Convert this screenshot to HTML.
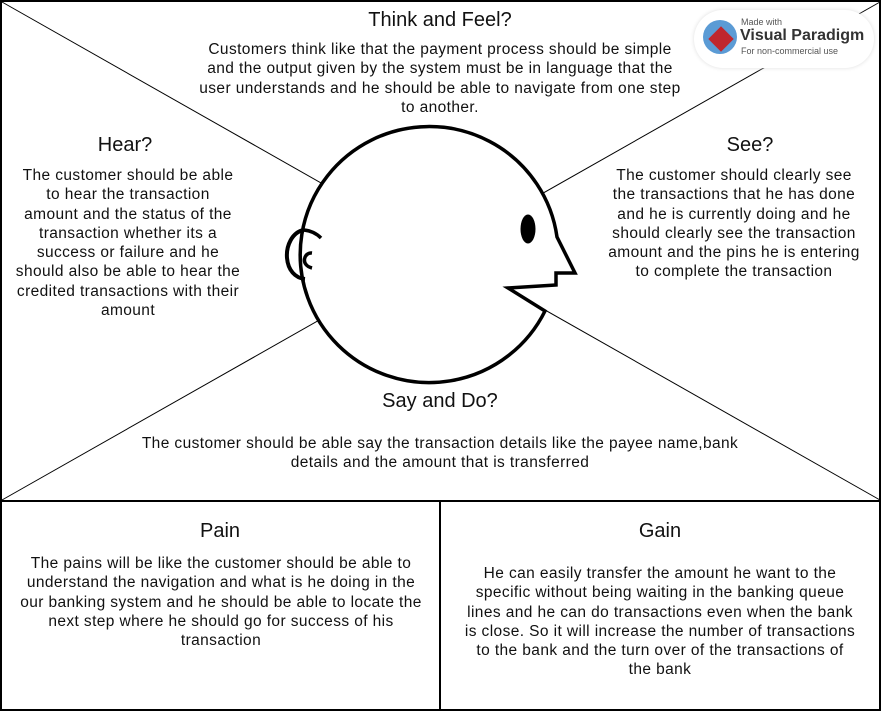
<!DOCTYPE html>
<html><head><meta charset="utf-8"><style>
body{margin:0;width:882px;height:712px;background:#fff;font-family:"Liberation Sans",sans-serif;overflow:hidden}
.t{position:absolute;text-align:center;color:#111;font-size:15.5px;letter-spacing:0.4px;line-height:19.3px;white-space:nowrap}
.h{position:absolute;text-align:center;font-size:20px;color:#111}
</style></head><body>
<svg width="882" height="712" style="position:absolute;left:0;top:0">
<line x1="2" y1="2" x2="441" y2="251" stroke="#000" stroke-width="1"/>
<line x1="880" y1="2" x2="441" y2="251" stroke="#000" stroke-width="1"/>
<line x1="2" y1="500" x2="441" y2="251" stroke="#000" stroke-width="1"/>
<line x1="880" y1="500" x2="441" y2="251" stroke="#000" stroke-width="1"/>
<rect x="1" y="1" width="879" height="500" fill="none" stroke="#000" stroke-width="2"/>
<rect x="1" y="501" width="879" height="209" fill="none" stroke="#000" stroke-width="2"/>
<line x1="440" y1="501" x2="440" y2="711" stroke="#000" stroke-width="2"/>
<path d="M557,237 L575,273 L556,273 L556,285 L508,288 L545,311 A129,128 0 1 1 557,237 Z" fill="#fff" stroke="#000" stroke-width="3.5" stroke-linejoin="miter"/>
<ellipse cx="528" cy="229" rx="7.5" ry="14.5" fill="#000"/>
<path d="M304,230 C292,232 286,246 287,258 C288,270 295,278 305,279" fill="none" stroke="#000" stroke-width="4"/>
<path d="M304,230 Q314,231 321,238" fill="none" stroke="#000" stroke-width="3.5"/>
<path d="M312,253 C304,252 300,265 312,268" fill="none" stroke="#000" stroke-width="3.5"/>
</svg>
<div style="position:absolute;left:694px;top:10px;width:180px;height:58px;background:#fff;border-radius:29px;box-shadow:0 0 4px #ddd"></div>
<div style="position:absolute;left:703px;top:20px;width:34px;height:34px;border-radius:50%;background:#5b9bd5"></div>
<div style="position:absolute;left:712px;top:30px;width:18px;height:18px;background:#c0262d;transform:rotate(45deg)"></div>
<div style="position:absolute;left:741px;top:17px;font-size:9px;color:#555">Made with</div>
<div style="position:absolute;left:740px;top:27px;font-size:16px;font-weight:bold;color:#333">Visual Paradigm</div>
<div style="position:absolute;left:741px;top:46px;font-size:9px;color:#555">For non-commercial use</div>
<div class="h" style="left:330px;top:9px;width:220px">Think and Feel?</div>
<div class="t" style="left:140px;top:40px;width:600px">Customers think like that the payment process should be simple<br>and the output given by the system must be in language that the<br>user understands and he should be able to navigate from one step<br>to another.</div>
<div class="h" style="left:60px;top:134px;width:130px">Hear?</div>
<div class="t" style="left:0px;top:166px;width:256px">The customer should be able<br>to hear the transaction<br>amount and the status of the<br>transaction whether its a<br>success or failure and he<br>should also be able to hear the<br>credited transactions with their<br>amount</div>
<div class="h" style="left:690px;top:134px;width:120px">See?</div>
<div class="t" style="left:592px;top:166px;width:284px">The customer should clearly see<br>the transactions that he has done<br>and he is currently doing and he<br>should clearly see the transaction<br>amount and the pins he is entering<br>to complete the transaction</div>
<div class="h" style="left:330px;top:390px;width:220px">Say and Do?</div>
<div class="t" style="left:100px;top:434px;width:680px">The customer should be able say the transaction details like the payee name,bank<br>details and the amount that is transferred</div>
<div class="h" style="left:120px;top:520px;width:200px">Pain</div>
<div class="t" style="left:0px;top:554px;width:442px">The pains will be like the customer should be able to<br>understand the navigation and what is he doing in the<br>our banking system and he should be able to locate the<br>next step where he should go for success of his<br>transaction</div>
<div class="h" style="left:560px;top:520px;width:200px">Gain</div>
<div class="t" style="left:440px;top:564px;width:440px">He can easily transfer the amount he want to the<br>specific without being waiting in the banking queue<br>lines and he can do transactions even when the bank<br>is close. So it will increase the number of transactions<br>to the bank and the turn over of the transactions of<br>the bank</div>
</body></html>
